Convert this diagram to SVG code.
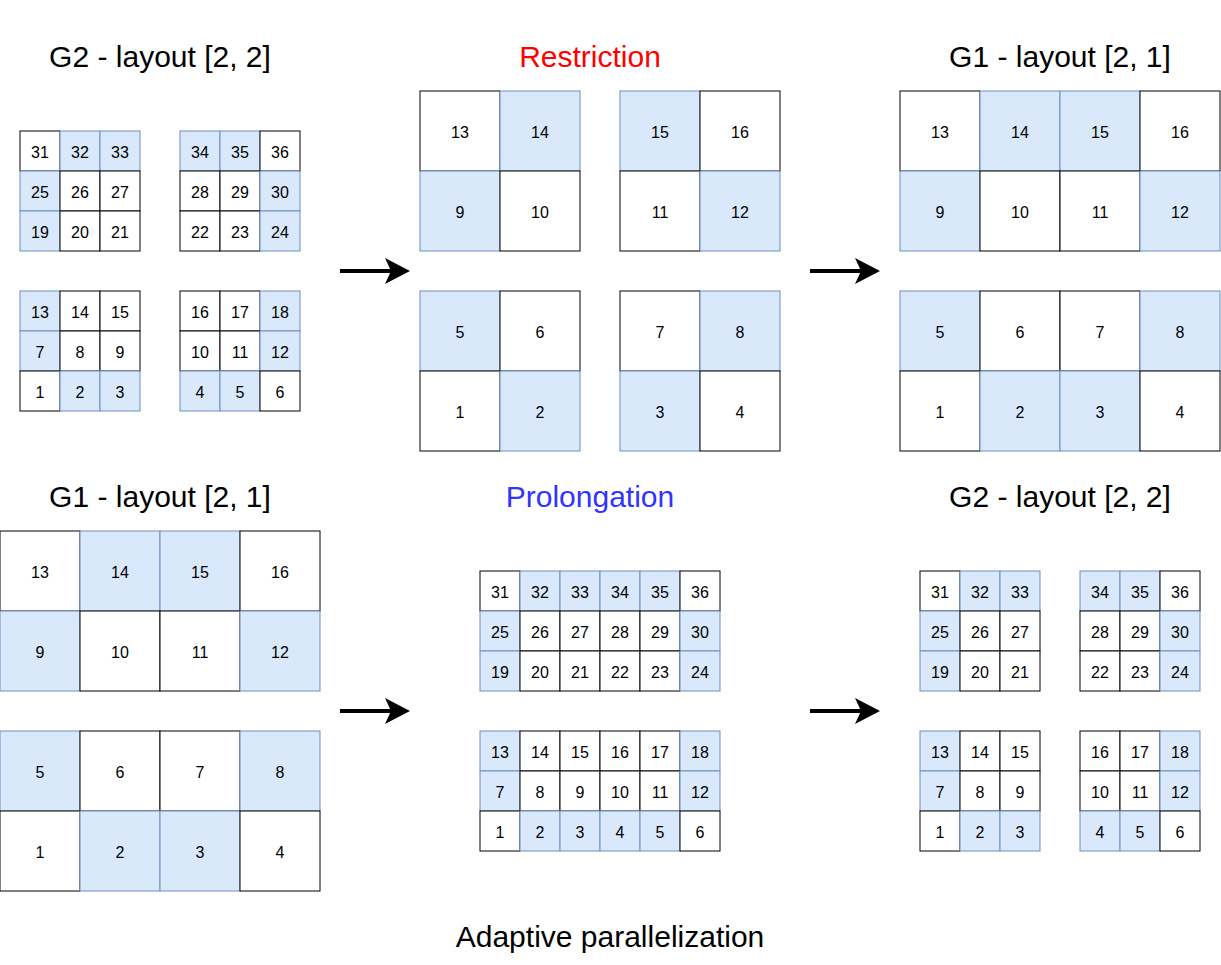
<svg xmlns="http://www.w3.org/2000/svg" width="1221" height="965" viewBox="0 0 1221 965">
<style>
.w{fill:#ffffff;stroke:#000000;stroke-width:1}
.b{fill:#dae8fc;stroke:#6c8ebf;stroke-width:1}
.n{font-family:"Liberation Sans",Arial,sans-serif;font-size:16px;fill:#000;text-anchor:middle}
.t{font-family:"Liberation Sans",Arial,sans-serif;font-size:30px;text-anchor:middle}
.arr{stroke:#000;stroke-width:4;fill:none}
</style>
<defs>
<path id="ah" d="M0,0 L-25,-13 L-19,0 L-25,13 Z" fill="#000"/>
</defs>
<rect width="1221" height="965" fill="#fff"/>
<g id="titles">
<text class="t" x="160" y="67" fill="#000">G2 - layout [2, 2]</text>
<text class="t" x="590" y="67" fill="#FF0000">Restriction</text>
<text class="t" x="1060" y="67" fill="#000">G1 - layout [2, 1]</text>
<text class="t" x="160" y="507" fill="#000">G1 - layout [2, 1]</text>
<text class="t" x="590" y="507" fill="#3333FF">Prolongation</text>
<text class="t" x="1060" y="507" fill="#000">G2 - layout [2, 2]</text>
<text class="t" x="610" y="947" fill="#000">Adaptive parallelization</text>
</g>
<g id="connectors">
<line class="arr" x1="340" y1="271" x2="392" y2="271"/><use href="#ah" x="410" y="271"/>
<line class="arr" x1="810" y1="271" x2="862" y2="271"/><use href="#ah" x="880" y="271"/>
<line class="arr" x1="340" y1="711" x2="392" y2="711"/><use href="#ah" x="410" y="711"/>
<line class="arr" x1="810" y1="711" x2="862" y2="711"/><use href="#ah" x="880" y="711"/>
</g>
<!-- Top-left G2 -->
<g id="g2a-1">
<rect class="w" x="20" y="131" width="40" height="40"/><text class="n" x="40" y="158">31</text>
<rect class="b" x="60" y="131" width="40" height="40"/><text class="n" x="80" y="158">32</text>
<rect class="b" x="100" y="131" width="40" height="40"/><text class="n" x="120" y="158">33</text>
<rect class="b" x="20" y="171" width="40" height="40"/><text class="n" x="40" y="198">25</text>
<rect class="w" x="60" y="171" width="40" height="40"/><text class="n" x="80" y="198">26</text>
<rect class="w" x="100" y="171" width="40" height="40"/><text class="n" x="120" y="198">27</text>
<rect class="b" x="20" y="211" width="40" height="40"/><text class="n" x="40" y="238">19</text>
<rect class="w" x="60" y="211" width="40" height="40"/><text class="n" x="80" y="238">20</text>
<rect class="w" x="100" y="211" width="40" height="40"/><text class="n" x="120" y="238">21</text>
</g>
<g id="g2a-2">
<rect class="b" x="180" y="131" width="40" height="40"/><text class="n" x="200" y="158">34</text>
<rect class="b" x="220" y="131" width="40" height="40"/><text class="n" x="240" y="158">35</text>
<rect class="w" x="260" y="131" width="40" height="40"/><text class="n" x="280" y="158">36</text>
<rect class="w" x="180" y="171" width="40" height="40"/><text class="n" x="200" y="198">28</text>
<rect class="w" x="220" y="171" width="40" height="40"/><text class="n" x="240" y="198">29</text>
<rect class="b" x="260" y="171" width="40" height="40"/><text class="n" x="280" y="198">30</text>
<rect class="w" x="180" y="211" width="40" height="40"/><text class="n" x="200" y="238">22</text>
<rect class="w" x="220" y="211" width="40" height="40"/><text class="n" x="240" y="238">23</text>
<rect class="b" x="260" y="211" width="40" height="40"/><text class="n" x="280" y="238">24</text>
</g>
<g id="g2a-3">
<rect class="b" x="20" y="291" width="40" height="40"/><text class="n" x="40" y="318">13</text>
<rect class="w" x="60" y="291" width="40" height="40"/><text class="n" x="80" y="318">14</text>
<rect class="w" x="100" y="291" width="40" height="40"/><text class="n" x="120" y="318">15</text>
<rect class="b" x="20" y="331" width="40" height="40"/><text class="n" x="40" y="358">7</text>
<rect class="w" x="60" y="331" width="40" height="40"/><text class="n" x="80" y="358">8</text>
<rect class="w" x="100" y="331" width="40" height="40"/><text class="n" x="120" y="358">9</text>
<rect class="w" x="20" y="371" width="40" height="40"/><text class="n" x="40" y="398">1</text>
<rect class="b" x="60" y="371" width="40" height="40"/><text class="n" x="80" y="398">2</text>
<rect class="b" x="100" y="371" width="40" height="40"/><text class="n" x="120" y="398">3</text>
</g>
<g id="g2a-4">
<rect class="w" x="180" y="291" width="40" height="40"/><text class="n" x="200" y="318">16</text>
<rect class="w" x="220" y="291" width="40" height="40"/><text class="n" x="240" y="318">17</text>
<rect class="b" x="260" y="291" width="40" height="40"/><text class="n" x="280" y="318">18</text>
<rect class="w" x="180" y="331" width="40" height="40"/><text class="n" x="200" y="358">10</text>
<rect class="w" x="220" y="331" width="40" height="40"/><text class="n" x="240" y="358">11</text>
<rect class="b" x="260" y="331" width="40" height="40"/><text class="n" x="280" y="358">12</text>
<rect class="b" x="180" y="371" width="40" height="40"/><text class="n" x="200" y="398">4</text>
<rect class="b" x="220" y="371" width="40" height="40"/><text class="n" x="240" y="398">5</text>
<rect class="w" x="260" y="371" width="40" height="40"/><text class="n" x="280" y="398">6</text>
</g>
<!-- Restriction -->
<g id="r-1">
<rect class="w" x="420" y="91" width="80" height="80"/><text class="n" x="460" y="138">13</text>
<rect class="b" x="500" y="91" width="80" height="80"/><text class="n" x="540" y="138">14</text>
<rect class="b" x="420" y="171" width="80" height="80"/><text class="n" x="460" y="218">9</text>
<rect class="w" x="500" y="171" width="80" height="80"/><text class="n" x="540" y="218">10</text>
</g>
<g id="r-2">
<rect class="b" x="620" y="91" width="80" height="80"/><text class="n" x="660" y="138">15</text>
<rect class="w" x="700" y="91" width="80" height="80"/><text class="n" x="740" y="138">16</text>
<rect class="w" x="620" y="171" width="80" height="80"/><text class="n" x="660" y="218">11</text>
<rect class="b" x="700" y="171" width="80" height="80"/><text class="n" x="740" y="218">12</text>
</g>
<g id="r-3">
<rect class="b" x="420" y="291" width="80" height="80"/><text class="n" x="460" y="338">5</text>
<rect class="w" x="500" y="291" width="80" height="80"/><text class="n" x="540" y="338">6</text>
<rect class="w" x="420" y="371" width="80" height="80"/><text class="n" x="460" y="418">1</text>
<rect class="b" x="500" y="371" width="80" height="80"/><text class="n" x="540" y="418">2</text>
</g>
<g id="r-4">
<rect class="w" x="620" y="291" width="80" height="80"/><text class="n" x="660" y="338">7</text>
<rect class="b" x="700" y="291" width="80" height="80"/><text class="n" x="740" y="338">8</text>
<rect class="b" x="620" y="371" width="80" height="80"/><text class="n" x="660" y="418">3</text>
<rect class="w" x="700" y="371" width="80" height="80"/><text class="n" x="740" y="418">4</text>
</g>
<!-- Top-right G1 -->
<g id="g1a-1">
<rect class="w" x="900" y="91" width="80" height="80"/><text class="n" x="940" y="138">13</text>
<rect class="b" x="980" y="91" width="80" height="80"/><text class="n" x="1020" y="138">14</text>
<rect class="b" x="1060" y="91" width="80" height="80"/><text class="n" x="1100" y="138">15</text>
<rect class="w" x="1140" y="91" width="80" height="80"/><text class="n" x="1180" y="138">16</text>
<rect class="b" x="900" y="171" width="80" height="80"/><text class="n" x="940" y="218">9</text>
<rect class="w" x="980" y="171" width="80" height="80"/><text class="n" x="1020" y="218">10</text>
<rect class="w" x="1060" y="171" width="80" height="80"/><text class="n" x="1100" y="218">11</text>
<rect class="b" x="1140" y="171" width="80" height="80"/><text class="n" x="1180" y="218">12</text>
</g>
<g id="g1a-2">
<rect class="b" x="900" y="291" width="80" height="80"/><text class="n" x="940" y="338">5</text>
<rect class="w" x="980" y="291" width="80" height="80"/><text class="n" x="1020" y="338">6</text>
<rect class="w" x="1060" y="291" width="80" height="80"/><text class="n" x="1100" y="338">7</text>
<rect class="b" x="1140" y="291" width="80" height="80"/><text class="n" x="1180" y="338">8</text>
<rect class="w" x="900" y="371" width="80" height="80"/><text class="n" x="940" y="418">1</text>
<rect class="b" x="980" y="371" width="80" height="80"/><text class="n" x="1020" y="418">2</text>
<rect class="b" x="1060" y="371" width="80" height="80"/><text class="n" x="1100" y="418">3</text>
<rect class="w" x="1140" y="371" width="80" height="80"/><text class="n" x="1180" y="418">4</text>
</g>
<!-- Bottom-left G1 -->
<g id="g1b-1">
<rect class="w" x="0" y="531" width="80" height="80"/><text class="n" x="40" y="578">13</text>
<rect class="b" x="80" y="531" width="80" height="80"/><text class="n" x="120" y="578">14</text>
<rect class="b" x="160" y="531" width="80" height="80"/><text class="n" x="200" y="578">15</text>
<rect class="w" x="240" y="531" width="80" height="80"/><text class="n" x="280" y="578">16</text>
<rect class="b" x="0" y="611" width="80" height="80"/><text class="n" x="40" y="658">9</text>
<rect class="w" x="80" y="611" width="80" height="80"/><text class="n" x="120" y="658">10</text>
<rect class="w" x="160" y="611" width="80" height="80"/><text class="n" x="200" y="658">11</text>
<rect class="b" x="240" y="611" width="80" height="80"/><text class="n" x="280" y="658">12</text>
</g>
<g id="g1b-2">
<rect class="b" x="0" y="731" width="80" height="80"/><text class="n" x="40" y="778">5</text>
<rect class="w" x="80" y="731" width="80" height="80"/><text class="n" x="120" y="778">6</text>
<rect class="w" x="160" y="731" width="80" height="80"/><text class="n" x="200" y="778">7</text>
<rect class="b" x="240" y="731" width="80" height="80"/><text class="n" x="280" y="778">8</text>
<rect class="w" x="0" y="811" width="80" height="80"/><text class="n" x="40" y="858">1</text>
<rect class="b" x="80" y="811" width="80" height="80"/><text class="n" x="120" y="858">2</text>
<rect class="b" x="160" y="811" width="80" height="80"/><text class="n" x="200" y="858">3</text>
<rect class="w" x="240" y="811" width="80" height="80"/><text class="n" x="280" y="858">4</text>
</g>
<!-- Prolongation -->
<g id="p-1">
<rect class="w" x="480" y="571" width="40" height="40"/><text class="n" x="500" y="598">31</text>
<rect class="b" x="520" y="571" width="40" height="40"/><text class="n" x="540" y="598">32</text>
<rect class="b" x="560" y="571" width="40" height="40"/><text class="n" x="580" y="598">33</text>
<rect class="b" x="600" y="571" width="40" height="40"/><text class="n" x="620" y="598">34</text>
<rect class="b" x="640" y="571" width="40" height="40"/><text class="n" x="660" y="598">35</text>
<rect class="w" x="680" y="571" width="40" height="40"/><text class="n" x="700" y="598">36</text>
<rect class="b" x="480" y="611" width="40" height="40"/><text class="n" x="500" y="638">25</text>
<rect class="w" x="520" y="611" width="40" height="40"/><text class="n" x="540" y="638">26</text>
<rect class="w" x="560" y="611" width="40" height="40"/><text class="n" x="580" y="638">27</text>
<rect class="w" x="600" y="611" width="40" height="40"/><text class="n" x="620" y="638">28</text>
<rect class="w" x="640" y="611" width="40" height="40"/><text class="n" x="660" y="638">29</text>
<rect class="b" x="680" y="611" width="40" height="40"/><text class="n" x="700" y="638">30</text>
<rect class="b" x="480" y="651" width="40" height="40"/><text class="n" x="500" y="678">19</text>
<rect class="w" x="520" y="651" width="40" height="40"/><text class="n" x="540" y="678">20</text>
<rect class="w" x="560" y="651" width="40" height="40"/><text class="n" x="580" y="678">21</text>
<rect class="w" x="600" y="651" width="40" height="40"/><text class="n" x="620" y="678">22</text>
<rect class="w" x="640" y="651" width="40" height="40"/><text class="n" x="660" y="678">23</text>
<rect class="b" x="680" y="651" width="40" height="40"/><text class="n" x="700" y="678">24</text>
</g>
<g id="p-2">
<rect class="b" x="480" y="731" width="40" height="40"/><text class="n" x="500" y="758">13</text>
<rect class="w" x="520" y="731" width="40" height="40"/><text class="n" x="540" y="758">14</text>
<rect class="w" x="560" y="731" width="40" height="40"/><text class="n" x="580" y="758">15</text>
<rect class="w" x="600" y="731" width="40" height="40"/><text class="n" x="620" y="758">16</text>
<rect class="w" x="640" y="731" width="40" height="40"/><text class="n" x="660" y="758">17</text>
<rect class="b" x="680" y="731" width="40" height="40"/><text class="n" x="700" y="758">18</text>
<rect class="b" x="480" y="771" width="40" height="40"/><text class="n" x="500" y="798">7</text>
<rect class="w" x="520" y="771" width="40" height="40"/><text class="n" x="540" y="798">8</text>
<rect class="w" x="560" y="771" width="40" height="40"/><text class="n" x="580" y="798">9</text>
<rect class="w" x="600" y="771" width="40" height="40"/><text class="n" x="620" y="798">10</text>
<rect class="w" x="640" y="771" width="40" height="40"/><text class="n" x="660" y="798">11</text>
<rect class="b" x="680" y="771" width="40" height="40"/><text class="n" x="700" y="798">12</text>
<rect class="w" x="480" y="811" width="40" height="40"/><text class="n" x="500" y="838">1</text>
<rect class="b" x="520" y="811" width="40" height="40"/><text class="n" x="540" y="838">2</text>
<rect class="b" x="560" y="811" width="40" height="40"/><text class="n" x="580" y="838">3</text>
<rect class="b" x="600" y="811" width="40" height="40"/><text class="n" x="620" y="838">4</text>
<rect class="b" x="640" y="811" width="40" height="40"/><text class="n" x="660" y="838">5</text>
<rect class="w" x="680" y="811" width="40" height="40"/><text class="n" x="700" y="838">6</text>
</g>
<!-- Bottom-right G2 -->
<g id="g2b-1">
<rect class="w" x="920" y="571" width="40" height="40"/><text class="n" x="940" y="598">31</text>
<rect class="b" x="960" y="571" width="40" height="40"/><text class="n" x="980" y="598">32</text>
<rect class="b" x="1000" y="571" width="40" height="40"/><text class="n" x="1020" y="598">33</text>
<rect class="b" x="920" y="611" width="40" height="40"/><text class="n" x="940" y="638">25</text>
<rect class="w" x="960" y="611" width="40" height="40"/><text class="n" x="980" y="638">26</text>
<rect class="w" x="1000" y="611" width="40" height="40"/><text class="n" x="1020" y="638">27</text>
<rect class="b" x="920" y="651" width="40" height="40"/><text class="n" x="940" y="678">19</text>
<rect class="w" x="960" y="651" width="40" height="40"/><text class="n" x="980" y="678">20</text>
<rect class="w" x="1000" y="651" width="40" height="40"/><text class="n" x="1020" y="678">21</text>
</g>
<g id="g2b-2">
<rect class="b" x="1080" y="571" width="40" height="40"/><text class="n" x="1100" y="598">34</text>
<rect class="b" x="1120" y="571" width="40" height="40"/><text class="n" x="1140" y="598">35</text>
<rect class="w" x="1160" y="571" width="40" height="40"/><text class="n" x="1180" y="598">36</text>
<rect class="w" x="1080" y="611" width="40" height="40"/><text class="n" x="1100" y="638">28</text>
<rect class="w" x="1120" y="611" width="40" height="40"/><text class="n" x="1140" y="638">29</text>
<rect class="b" x="1160" y="611" width="40" height="40"/><text class="n" x="1180" y="638">30</text>
<rect class="w" x="1080" y="651" width="40" height="40"/><text class="n" x="1100" y="678">22</text>
<rect class="w" x="1120" y="651" width="40" height="40"/><text class="n" x="1140" y="678">23</text>
<rect class="b" x="1160" y="651" width="40" height="40"/><text class="n" x="1180" y="678">24</text>
</g>
<g id="g2b-3">
<rect class="b" x="920" y="731" width="40" height="40"/><text class="n" x="940" y="758">13</text>
<rect class="w" x="960" y="731" width="40" height="40"/><text class="n" x="980" y="758">14</text>
<rect class="w" x="1000" y="731" width="40" height="40"/><text class="n" x="1020" y="758">15</text>
<rect class="b" x="920" y="771" width="40" height="40"/><text class="n" x="940" y="798">7</text>
<rect class="w" x="960" y="771" width="40" height="40"/><text class="n" x="980" y="798">8</text>
<rect class="w" x="1000" y="771" width="40" height="40"/><text class="n" x="1020" y="798">9</text>
<rect class="w" x="920" y="811" width="40" height="40"/><text class="n" x="940" y="838">1</text>
<rect class="b" x="960" y="811" width="40" height="40"/><text class="n" x="980" y="838">2</text>
<rect class="b" x="1000" y="811" width="40" height="40"/><text class="n" x="1020" y="838">3</text>
</g>
<g id="g2b-4">
<rect class="w" x="1080" y="731" width="40" height="40"/><text class="n" x="1100" y="758">16</text>
<rect class="w" x="1120" y="731" width="40" height="40"/><text class="n" x="1140" y="758">17</text>
<rect class="b" x="1160" y="731" width="40" height="40"/><text class="n" x="1180" y="758">18</text>
<rect class="w" x="1080" y="771" width="40" height="40"/><text class="n" x="1100" y="798">10</text>
<rect class="w" x="1120" y="771" width="40" height="40"/><text class="n" x="1140" y="798">11</text>
<rect class="b" x="1160" y="771" width="40" height="40"/><text class="n" x="1180" y="798">12</text>
<rect class="b" x="1080" y="811" width="40" height="40"/><text class="n" x="1100" y="838">4</text>
<rect class="b" x="1120" y="811" width="40" height="40"/><text class="n" x="1140" y="838">5</text>
<rect class="w" x="1160" y="811" width="40" height="40"/><text class="n" x="1180" y="838">6</text>
</g>
</svg>
